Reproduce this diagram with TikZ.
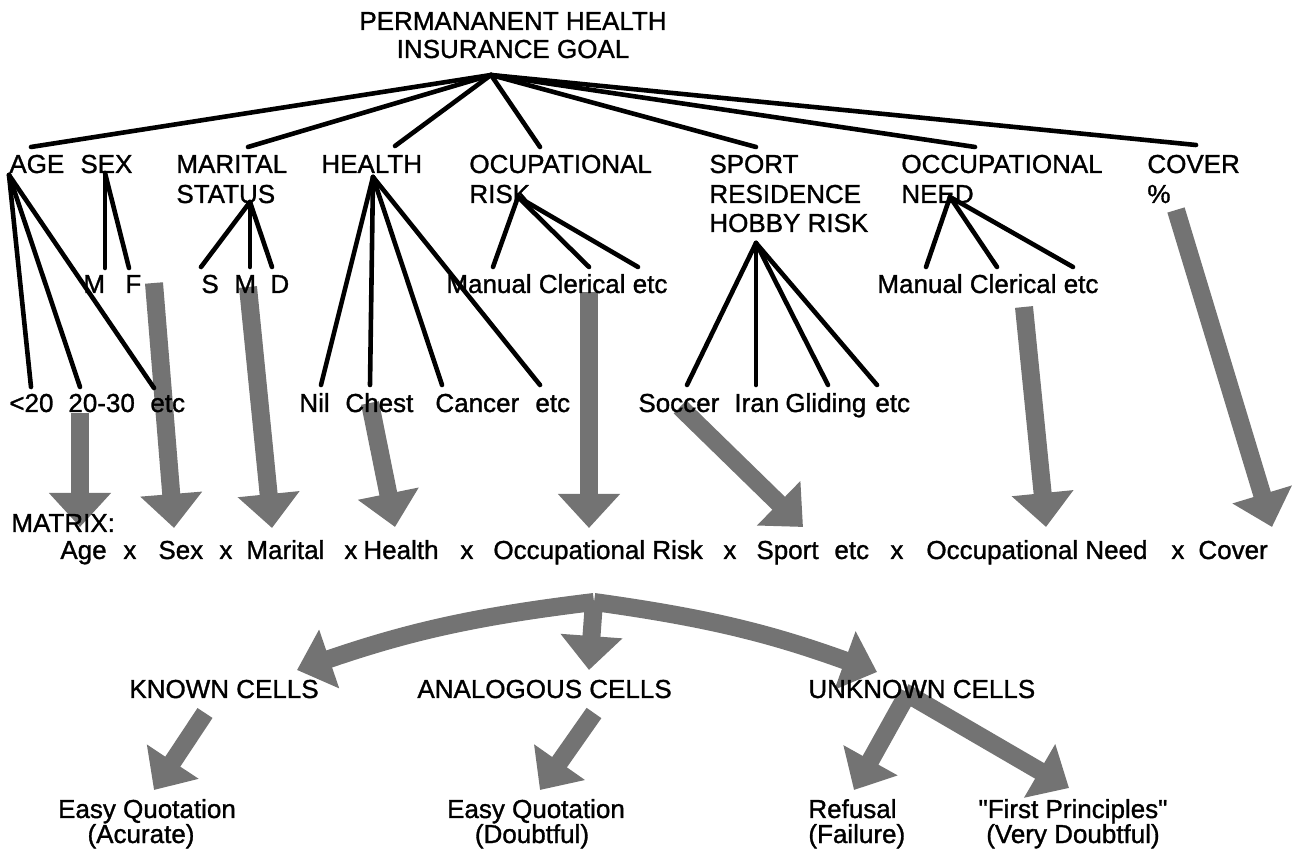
\documentclass[tikz,border=0pt]{standalone}
\usepackage{fontspec}
\setmainfont{Liberation Sans}[FakeBold=1.2]
\usetikzlibrary{arrows.meta}
\begin{document}
\begin{tikzpicture}[x=0.5pt,y=-0.5pt,
  lbl/.style={anchor=base west,inner sep=0pt,font=\fontsize{13}{15}\selectfont},
  clbl/.style={anchor=base,inner sep=0pt,font=\fontsize{13}{15}\selectfont},
  tree/.style={line width=2.3pt,line cap=round},
  shade/.style={line width=9pt,draw=black!55,line cap=butt,-{Triangle[width=30pt,length=17pt]}}]
\useasboundingbox (0,0) rectangle (1296,854);
% ---------- coordinates ----------
\coordinate (root) at (491,75);
\coordinate (pAge) at (9,175);
\coordinate (pSex) at (105,173);
\coordinate (pMar) at (250,202);
\coordinate (pHea) at (373,177);
\coordinate (pRisk) at (518,197);
\coordinate (pHob) at (756,243);
\coordinate (pNeed) at (950,197);
\coordinate (cAge) at (31,147);
\coordinate (cMar) at (248,147);
\coordinate (cHea) at (395,146);
\coordinate (cRisk) at (540,147);
\coordinate (cSpo) at (756,147);
\coordinate (cNeed) at (975,147);
\coordinate (cCov) at (1196,145);
\coordinate (e1) at (31,387);
\coordinate (e2) at (80,387);
\coordinate (e3) at (154,388);
\coordinate (eM) at (105,268);
\coordinate (eF) at (129,268);
\coordinate (eS) at (201,267);
\coordinate (eM2) at (250,267);
\coordinate (eD) at (272,267);
\coordinate (eNil) at (321,385);
\coordinate (eChe) at (370,385);
\coordinate (eCan) at (442,385);
\coordinate (eHetc) at (540,385);
\coordinate (eRm) at (493,267);
\coordinate (eRc) at (589,267);
\coordinate (eRe) at (638,267);
\coordinate (eSoc) at (687,385);
\coordinate (eIran) at (756,385);
\coordinate (eGli) at (828,385);
\coordinate (eSetc) at (877,385);
\coordinate (eNm) at (926,267);
\coordinate (eNc) at (997,267);
\coordinate (eNe) at (1073,267);
% shaded arrow ends
\coordinate (s1) at (80,413);   \coordinate (t1) at (80,527);
\coordinate (s2) at (154,283);  \coordinate (t2) at (174,528);
\coordinate (s3) at (248,287);  \coordinate (t3) at (272,528);
\coordinate (s4) at (370,403);  \coordinate (t4) at (395,527);
\coordinate (s5) at (589,292);  \coordinate (t5) at (589,528);
\coordinate (s6) at (680,407);  \coordinate (t6) at (803,527);
\coordinate (s7) at (1024,307); \coordinate (t7) at (1046,527);
\coordinate (s8) at (1176,210); \coordinate (t8) at (1272,527);
\coordinate (jn) at (594,602);
\coordinate (tKn) at (297,670);
\coordinate (tAn) at (589,670);
\coordinate (tUn) at (877,672);
\coordinate (s9) at (205,713);  \coordinate (t9) at (154,790);
\coordinate (s10) at (594,713); \coordinate (t10) at (540,790);
\coordinate (s11) at (908,693); \coordinate (t11) at (854,790);
\coordinate (s12) at (904,692); \coordinate (t12) at (1069,788);
% ---------- shaded arrows ----------
\foreach \i in {1,...,12} {\draw[shade] (s\i) -- (t\i);}
\draw[shade] (jn) to[bend right=6] (tKn);
\draw[shade] (jn) -- (tAn);
\draw[shade] (jn) to[bend left=6] (tUn);
% ---------- tree lines ----------
\foreach \c in {cAge,cMar,cHea,cRisk,cSpo,cNeed,cCov} {\draw[tree] (root) -- (\c);}
\foreach \c in {e1,e2,e3} {\draw[tree] (pAge) -- (\c);}
\foreach \c in {eM,eF} {\draw[tree] (pSex) -- (\c);}
\foreach \c in {eS,eM2,eD} {\draw[tree] (pMar) -- (\c);}
\foreach \c in {eNil,eChe,eCan,eHetc} {\draw[tree] (pHea) -- (\c);}
\foreach \c in {eRm,eRc,eRe} {\draw[tree] (pRisk) -- (\c);}
\foreach \c in {eSoc,eIran,eGli,eSetc} {\draw[tree] (pHob) -- (\c);}
\foreach \c in {eNm,eNc,eNe} {\draw[tree] (pNeed) -- (\c);}
% ---------- texts ----------
\node[clbl] (title1) at (513,30) {PERMANANENT HEALTH};
\node[clbl] (title2) at (513,58) {INSURANCE GOAL};
\node[lbl] (lAge) at (9,173) {AGE};
\node[lbl] (lSex) at (80,173) {SEX};
\node[lbl] (lMar1) at (176,173) {MARITAL};
\node[lbl] (lMar2) at (176,203) {STATUS};
\node[lbl] (lHea) at (321,173) {HEALTH};
\node[lbl] (lRisk1) at (469,173) {OCUPATIONAL};
\node[lbl] (lRisk2) at (469,203) {RISK};
\node[lbl] (lSpo1) at (709,173) {SPORT};
\node[lbl] (lSpo2) at (709,203) {RESIDENCE};
\node[lbl] (lSpo3) at (709,232) {HOBBY RISK};
\node[lbl] (lNeed1) at (901,173) {OCCUPATIONAL};
\node[lbl] (lNeed2) at (901,203) {NEED};
\node[lbl] (lCov1) at (1147,173) {COVER};
\node[lbl] (lCov2) at (1147,203) {\%};
% level 2
\node[lbl] (vM) at (83,293) {M};
\node[lbl] (vF) at (125,293) {F};
\node[lbl] (vS) at (201,293) {S};
\node[lbl] (vM2) at (234,293) {M};
\node[lbl] (vD) at (270,293) {D};
\node[lbl] (vRisk) at (446,293) {Manual Clerical etc};
\node[lbl] (vNeed) at (877,293) {Manual Clerical etc};
% level 3
\node[lbl] (a1) at (9,412) {<20};
\node[lbl] (a2) at (68,412) {20-30};
\node[lbl] (a3) at (150,412) {etc};
\node[lbl] (h1) at (299,412) {Nil};
\node[lbl] (h2) at (345,412) {Chest};
\node[lbl] (h3) at (435,412) {Cancer};
\node[lbl] (h4) at (535,412) {etc};
\node[lbl] (g1) at (638,412) {Soccer};
\node[lbl] (g2) at (734,412) {Iran};
\node[lbl] (g3) at (785,412) {Gliding};
\node[lbl] (g4) at (875,412) {etc};
% matrix
\node[lbl] (mx) at (11,532) {MATRIX:};
\node[lbl] (m1) at (60,559) {Age};
\node[lbl] (x1) at (123,559) {x};
\node[lbl] (m2) at (158,559) {Sex};
\node[lbl] (x2) at (219,559) {x};
\node[lbl] (m3) at (246,559) {Marital};
\node[lbl] (x3) at (344,559) {x};
\node[lbl] (m4) at (363,559) {Health};
\node[lbl] (x4) at (460,559) {x};
\node[lbl] (m5) at (493,559) {Occupational Risk};
\node[lbl] (x5) at (723,559) {x};
\node[lbl] (m6) at (756,559) {Sport};
\node[lbl] (m6b) at (834,559) {etc};
\node[lbl] (x6) at (890,559) {x};
\node[lbl] (m7) at (926,559) {Occupational Need};
\node[lbl] (x7) at (1171,559) {x};
\node[lbl] (m8) at (1198,559) {Cover};
% bottom
\node[lbl] (kn) at (129,698) {KNOWN CELLS};
\node[lbl] (an) at (417,698) {ANALOGOUS CELLS};
\node[lbl] (un) at (808,698) {UNKNOWN CELLS};
\node[clbl] (q1a) at (147,818) {Easy Quotation};
\node[clbl] (q1b) at (141,843) {(Acurate)};
\node[clbl] (q2a) at (536,818) {Easy Quotation};
\node[clbl] (q2b) at (532,843) {(Doubtful)};
\node[lbl] (q3a) at (808,818) {Refusal};
\node[lbl] (q3b) at (808,843) {(Failure)};
\node[clbl] (q4a) at (1073,818) {\textquotedbl First Principles\textquotedbl};
\node[clbl] (q4b) at (1073,843) {(Very Doubtful)};
\end{tikzpicture}
\end{document}
